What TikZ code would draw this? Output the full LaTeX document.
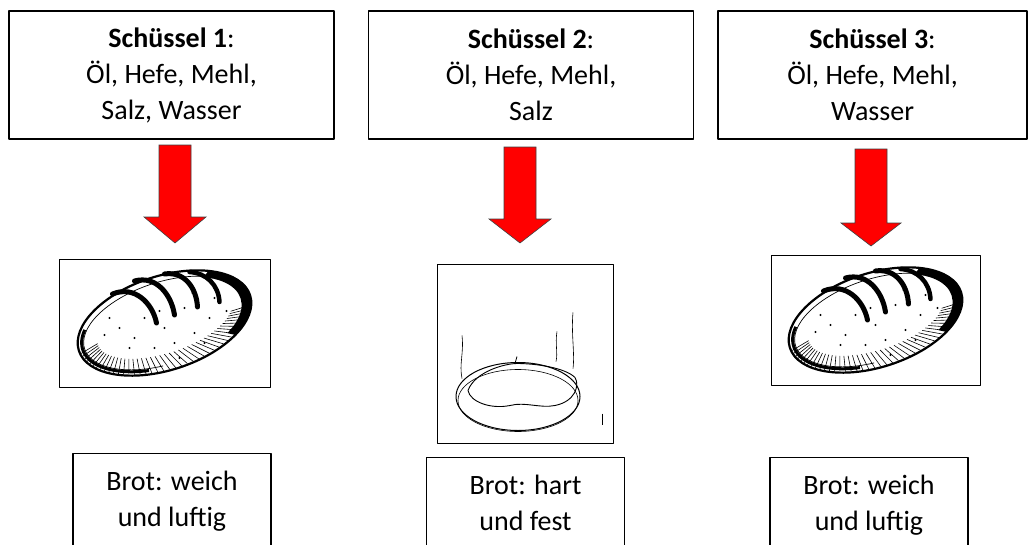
\documentclass[tikz,border=0pt]{standalone}
\usepackage{fontspec}
\setmainfont{Carlito}
\usetikzlibrary{shapes}

\begin{document}
\begin{tikzpicture}[x=1pt,y=-1pt,line join=round,
	textbox/.style={draw,line width=1.1pt,align=center,
		font=\fontsize{28}{36}\selectfont},
	bowl box/.style={textbox,minimum width=325pt,minimum height=128pt,inner sep=0pt},
	result box/.style={textbox,anchor=north,minimum width=198pt,inner xsep=0pt,inner ysep=18pt},
	pic frame/.style={draw,line width=1pt,inner sep=0pt},
	red arrow/.style={fill=red,draw=black!75,line width=0.6pt,line join=miter},
	% a loaf of bread with cuts on top
	loaf/.pic={
		\draw[line width=2.2pt,rotate=18] (0,0) ellipse (90 and 47);
		\draw[line width=0.7pt,rotate=18] (100:84 and 41) arc[start angle=100,end angle=330,x radius=84,y radius=41];
		% dark crust at the right end
		\fill[rotate=18] (-50:90 and 47) arc[start angle=-50,end angle=45,x radius=90,y radius=47]
			-- (45:80 and 41) arc[start angle=45,end angle=-50,x radius=80,y radius=41] -- cycle;
		\draw[line width=3pt,rotate=18] (110:86 and 43) arc[start angle=110,end angle=205,x radius=86,y radius=43];
		% hatching along the underside
		\foreach \t in {12,16,...,176}
			\draw[line width=0.6pt,rotate=18] (\t:89 and 46) -- (\t+6:70 and 30);
		% cuts on top
		\draw[line width=5pt,line cap=round] (-52,-29) .. controls (-30,-38) and (-12,-20) .. (-8,0);
		\draw[line width=5pt,line cap=round] (-30,-42) .. controls (-8,-48) and (7,-28) .. (10,-8);
		\draw[line width=5pt,line cap=round] (0,-49) .. controls (20,-52) and (32,-35) .. (33,-16);
		\draw[line width=4.5pt,line cap=round] (25,-51) .. controls (42,-50) and (54,-38) .. (55,-21);
		% flour dots
		\foreach \p in {(-45,5),(-30,15),(-10,25),(10,20),(30,10),(45,-5),(-55,-5),(-20,-5),
			(0,5),(20,-15),(50,-25),(62,-12),(-35,25),(15,35),(-5,-12),(40,20),(-60,12),(28,-30)}
			\fill \p circle (1.1pt);
	},
	% a flat, hard loaf seen from the side
	flat loaf/.pic={
		\draw[line width=1pt] (-7,43) ellipse (62 and 34);
		\draw[line width=0.6pt] (-7,47) ellipse (60 and 31);
		\draw[line width=0.9pt] (-57,37) .. controls (-50,18) and (-20,10) .. (-8,10)
			.. controls (10,10) and (40,14) .. (50,24)
			.. controls (55,32) and (50,48) .. (30,52)
			.. controls (15,55) and (0,48) .. (-15,52)
			.. controls (-35,56) and (-55,48) .. (-57,37);
		\draw[line width=0.8pt] (-10,10) -- (-8,3);
		\draw[line width=0.6pt] (-63,-18) .. controls (-61,0) and (-66,10) .. (-63,25);
		\draw[line width=0.6pt] (32,-22) .. controls (30,-10) and (33,0) .. (31,8);
		\draw[line width=0.6pt] (48,-41) .. controls (46,-20) and (50,0) .. (48,15);
		\draw[line width=1pt] (77,60) -- (77,71);
	}]

	\useasboundingbox (0,0) rectangle (1029,544);

	\node[bowl box] (s1) at (171.5,75) {\textbf{Schüssel 1}:\\Öl, Hefe, Mehl,\\Salz, Wasser};
	\node[bowl box] (s2) at (531,75) {\textbf{Schüssel 2}:\\Öl, Hefe, Mehl,\\Salz};
	\node[bowl box,minimum width=309pt] (s3) at (872.5,75) {\textbf{Schüssel 3}:\\Öl, Hefe, Mehl,\\Wasser};

	\coordinate (a1) at (175,145);
	\coordinate (a2) at (520,147);
	\coordinate (a3) at (871,149);
	\draw[red arrow] (a1) ++(-16,0) -- ++(32,0) -- ++(0,72) -- ++(15,0) -- ++(-31,26) -- ++(-31,-26) -- ++(15,0) -- cycle;
	\draw[red arrow] (a2) ++(-16,0) -- ++(32,0) -- ++(0,72) -- ++(15,0) -- ++(-31,24) -- ++(-31,-24) -- ++(15,0) -- cycle;
	\draw[red arrow] (a3) ++(-16,0) -- ++(32,0) -- ++(0,74) -- ++(14,0) -- ++(-30,23) -- ++(-30,-23) -- ++(14,0) -- cycle;

	\node[pic frame,minimum width=211pt,minimum height=128pt] (b1) at (164.5,323) {};
	\node[pic frame,minimum width=176pt,minimum height=179pt] (b2) at (525,353.5) {};
	\node[pic frame,minimum width=209pt,minimum height=130pt] (b3) at (875.5,320) {};
	\pic at (b1.center) {loaf};
	\pic at (b2.center) {flat loaf};
	\pic at (b3.center) {loaf};

	\node[result box] (r1) at (172,453) {Brot: weich\\und luftig};
	\node[result box] (r2) at (525.5,457) {Brot: hart\\und fest};
	\node[result box] (r3) at (869,457) {Brot: weich\\und luftig};
\end{tikzpicture}
\end{document}
